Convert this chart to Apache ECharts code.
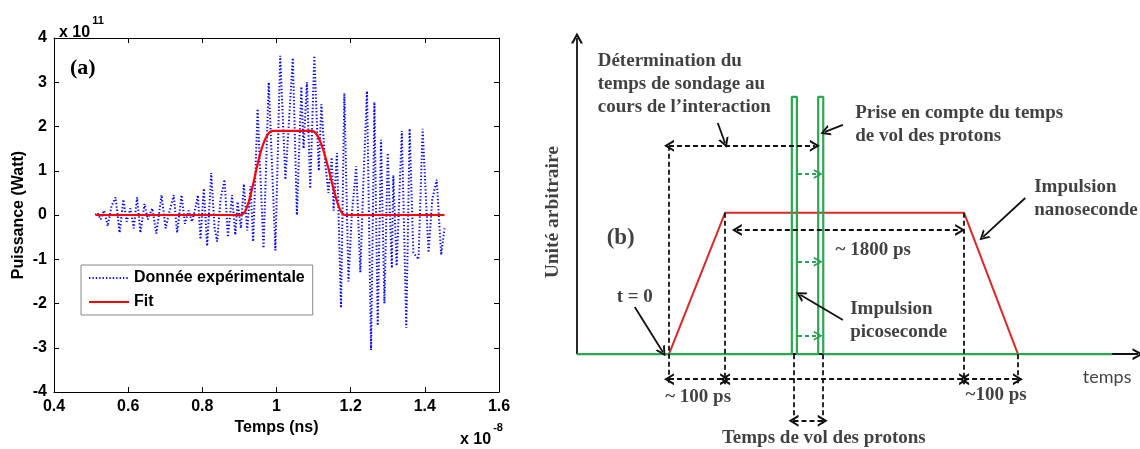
<!DOCTYPE html>
<html><head><meta charset="utf-8">
<script src="https://cdn.jsdelivr.net/npm/echarts@6/dist/echarts.min.js"></script>
<style>html,body{margin:0;padding:0;background:#fff}#c{width:1140px;height:449px}</style>
</head><body><div id="c"></div>
<script>
// ---------- Panel (a) data : time in units of 1e-8 s, power in units of 1e11 W ----------
const timeData = [0.512,0.517,0.526,0.535,0.545,0.555,0.566,0.577,0.587,0.596,0.606,0.615,0.624,0.633,0.644,0.653,0.665,0.676,0.690,0.701,0.712,0.723,0.732,0.744,0.753,0.763,0.772,0.781,0.788,0.795,0.804,0.813,0.824,0.833,0.840,0.849,0.860,0.869,0.880,0.889,0.895,0.904,0.912,0.921,0.930,0.937,0.949,0.965,0.979,0.997,1.010,1.024,1.044,1.055,1.067,1.073,1.082,1.091,1.102,1.114,1.121,1.131,1.140,1.149,1.154,1.163,1.174,1.183,1.194,1.203,1.215,1.226,1.235,1.244,1.255,1.264,1.273,1.282,1.291,1.300,1.311,1.315,1.324,1.338,1.350,1.359,1.369,1.383,1.394,1.410,1.420,1.432,1.444,1.453];
const powerData = [0,0.05,-0.1,0.1,-0.25,0.2,0.4,-0.4,0.35,-0.15,0.15,-0.3,0.4,-0.4,0.25,-0.1,0.15,-0.42,0.45,-0.3,0.1,0.45,-0.4,0.45,-0.2,0.1,-0.15,0.15,0.45,-0.55,0.6,-0.7,0.95,-0.3,-0.6,0.35,0.8,-0.5,0.45,-0.45,0.3,-0.3,0.7,-0.35,0.65,-0.6,2.4,-0.75,3.0,-0.8,3.6,0.8,3.55,0.0,2.9,1.5,3.0,0.6,3.6,1.0,2.5,1.2,0.5,1.3,0.1,1.4,-2.1,2.75,-1.5,0.0,1.1,-1.3,0.9,2.8,-3.05,2.55,-2.5,1.7,-2.0,1.4,-1.2,0.9,-1.15,1.9,-2.55,1.95,-0.85,-1.0,1.95,-0.85,0.35,0.8,-0.9,-0.3];
const fitTime  = [0.512,0.900,0.915,0.930,0.945,0.960,0.975,0.990,1.095,1.110,1.125,1.140,1.155,1.170,1.185,1.453];
const fitPower = [0,0,0.08,0.45,1.0,1.5,1.8,1.9,1.9,1.8,1.5,1.05,0.55,0.15,0,0];
const seriesNames = ['Donnée expérimentale','Fit'];

// ---------- Panel (b) schematic data (arbitrary units) ----------
const nanoX = [16.4,26.4,69.0,78.6];
const nanoY = [0,44.7,44.7,0];
const picoX = [0,38.3,38.3,39.2,39.2,43.0,43.0,43.9,43.9,95.4];
const picoY = [0,0,81.4,81.4,0,0,81.4,81.4,0,0];
// [x1,y1,x2,y2,headStart,headEnd]
const axesArrows = [[0,0,0,100,0,1],[0,0,100,0,0,1]];
const dashedArrows = [[16.4,65.9,42.4,65.9,1,1],[28.5,39.3,68.3,39.3,1,1],[16.4,-7.9,26.4,-7.9,1,1],[26.4,-7.9,69.0,-7.9,1,1],[69.0,-7.9,78.6,-7.9,1,1],[38.6,-21.1,43.8,-21.1,1,1]];
const dashedGuides = [[16.4,65.9,16.4,-9.5,0,0],[26.4,44.7,26.4,-9.5,0,0],[69.0,44.7,69.0,-9.5,0,0],[78.6,0,78.6,-9.5,0,0],[38.6,0,38.6,-22.5,0,0],[43.8,0,43.8,-22.5,0,0]];
const greenArrows = [[39.4,57.0,43.0,57.0,0,1],[39.4,29.2,43.0,29.2,0,1],[39.4,5.8,43.0,5.8,0,1]];
const pointerArrows = [[25.1,73.1,26.4,66.8,0,1],[47.4,72.5,44.2,70.3,0,1],[79.9,49.4,72.4,37.1,0,1],[47.4,10.8,39.8,18.8,0,1],[10.3,14.9,15.3,0.7,0,1]];
const labelTexts = ['Détermination du\ntemps de sondage au\ncours de l\u2019interaction','Prise en compte du temps\nde vol des protons','Impulsion\nnanoseconde','Impulsion\npicoseconde','~ 1800 ps','~ 100 ps','~100 ps','Temps de vol des protons','t = 0','(b)','temps','Unité arbitraire'];
const labelX = [3.7,49.6,81.5,48.7,52.8,21.6,74.7,44.0,10.3,7.8,94.5,-4.3];
const labelY = [85.3,72.5,49.1,10.5,32.9,-13.6,-12.9,-26.5,18.1,36.8,-7.4,44.9];

// ---------- build ----------
const zip = (a,b)=>a.map((v,i)=>[v,b[i]]);
const chevron = 'path://M0,10 L5,0 L10,10 L8,10 L5,3.8 L2,10 Z';
function toMark(seg, style, size){
  return [
    {coord:[seg[0],seg[1]], symbol: seg[4]?chevron:'none', symbolSize:size, lineStyle:style},
    {coord:[seg[2],seg[3]], symbol: seg[5]?chevron:'none', symbolSize:size}
  ];
}
const black = '#111';
const dashStyle = {color:black, width:1.8, type:[5,3]};
const greenDash = {color:'#2aa35a', width:1.8, type:[4,3]};
const solidStyle = {color:black, width:1.8, type:'solid'};

const serifBold = {fontFamily:'Liberation Serif', fontWeight:'bold', fontSize:19, color:'#111', lineHeight:23};
const labelStyles = [
  {align:'left'}, {align:'left'}, {align:'left'}, {align:'left'},
  {align:'center'}, {align:'center'}, {align:'center'}, {align:'center'},
  {align:'center'}, {align:'center', fontSize:23},
  {align:'center', fontFamily:'Lato', fontWeight:'normal', fontSize:18},
  {align:'center', rotate:90, fontSize:19.5}
];
const labelItems = labelTexts.map((t,i)=>({
  value:[labelX[i],labelY[i]], name:t,
  label:Object.assign({show:true, position:[0,0], verticalAlign:'middle', formatter:'{b}'}, serifBold, labelStyles[i])
}));

const axisFont = {fontFamily:'Liberation Sans', fontWeight:'bold', fontSize:16, color:'#000'};
const supRich = {b:Object.assign({},axisFont,{lineHeight:26, verticalAlign:'bottom'}), s:Object.assign({},axisFont,{fontSize:11, lineHeight:26, verticalAlign:'top', padding:[0,0,0,2]})};
const chart = echarts.init(document.getElementById('c'), null, {renderer:'canvas'});
chart.setOption({
  animation:false,
  backgroundColor:'#fff',
  title:[
    {text:'(a)', left:65, top:52, textStyle:{fontFamily:'Liberation Serif', fontWeight:'bold', fontSize:22, color:'#000'}},
    {text:'{b|x 10}{s|11}', left:54, top:10, textStyle:{rich:supRich}},
    {text:'{b|x 10}{s|-8}', left:455, top:417, textStyle:{rich:supRich}}
  ],
  legend:{
    data:seriesNames, orient:'vertical', left:81, top:265,
    padding:[5,8,5,7], itemGap:8, itemWidth:40, itemHeight:14,
    borderColor:'#888', borderWidth:1, backgroundColor:'#fff',
    itemStyle:{opacity:0},
    textStyle:Object.assign({},axisFont,{fontSize:16})
  },
  grid:[
    {left:54, top:38, width:445, height:354},
    {left:543.3, top:38, width:594.7, height:411}
  ],
  xAxis:[
    {gridIndex:0, type:'value', min:0.4, max:1.6, interval:0.2, position:'bottom',
     name:'Temps (ns)', nameLocation:'middle', nameGap:25, nameTextStyle:axisFont,
     axisLine:{show:true, onZero:false, lineStyle:{color:'#000', width:1}},
     axisTick:{show:true, inside:true, length:5, lineStyle:{color:'#000'}},
     axisLabel:Object.assign({margin:7, formatter:v=>String(Math.round(v*10)/10)}, axisFont),
     splitLine:{show:false}},
    {gridIndex:0, type:'value', min:0.4, max:1.6, interval:0.2, position:'top',
     axisLine:{show:true, onZero:false, lineStyle:{color:'#000', width:1}},
     axisTick:{show:true, inside:true, length:5, lineStyle:{color:'#000'}},
     axisLabel:{show:false}, splitLine:{show:false}},
    {gridIndex:1, type:'value', min:-6, max:100, show:false}
  ],
  yAxis:[
    {gridIndex:0, type:'value', min:-4, max:4, interval:1, position:'left',
     name:'Puissance (Watt)', nameLocation:'middle', nameGap:27, nameTextStyle:axisFont,
     axisLine:{show:true, onZero:false, lineStyle:{color:'#000', width:1}},
     axisTick:{show:true, inside:true, length:5, lineStyle:{color:'#000'}},
     axisLabel:Object.assign({margin:7}, axisFont), splitLine:{show:false}},
    {gridIndex:0, type:'value', min:-4, max:4, interval:1, position:'right',
     axisLine:{show:true, onZero:false, lineStyle:{color:'#000', width:1}},
     axisTick:{show:true, inside:true, length:5, lineStyle:{color:'#000'}},
     axisLabel:{show:false}, splitLine:{show:false}},
    {gridIndex:1, type:'value', min:-30, max:100, show:false}
  ],
  series:[
    {name:seriesNames[0], type:'line', xAxisIndex:0, yAxisIndex:0, data:zip(timeData,powerData),
     symbol:'none', lineStyle:{color:'#0000ff', width:2, type:[1.3,2.1], cap:'butt'}, itemStyle:{color:'#0000ff'}, z:3},
    {name:seriesNames[1], type:'line', xAxisIndex:0, yAxisIndex:0, data:zip(fitTime,fitPower), smooth:0.35,
     symbol:'none', lineStyle:{color:'#ff0000', width:2.2}, itemStyle:{color:'#ff0000'}, z:4},
    // panel (b)
    {name:'axes', type:'line', xAxisIndex:2, yAxisIndex:2, data:[[0,0]], symbol:'none', lineStyle:{opacity:0}, z:1,
     markLine:{silent:true, label:{show:false}, z:1, data:axesArrows.map(s=>toMark(s,{color:black,width:1.8,type:'solid'},[12,11]))}},
    {name:'Impulsion nanoseconde', type:'line', xAxisIndex:2, yAxisIndex:2, data:zip(nanoX,nanoY), symbol:'none',
     lineStyle:{color:'#d92a2a', width:2}, z:2},
    {name:'Impulsion picoseconde', type:'line', xAxisIndex:2, yAxisIndex:2, data:zip(picoX,picoY), symbol:'none',
     lineStyle:{color:'#27a94f', width:2.2}, z:3},
    {name:'annotations', type:'line', xAxisIndex:2, yAxisIndex:2, data:[[0,0]], symbol:'none', lineStyle:{opacity:0}, z:5,
     markLine:{silent:true, label:{show:false}, z:5, data:[].concat(
       dashedArrows.map(s=>toMark(s,dashStyle,[12,10])),
       dashedGuides.map(s=>toMark(s,dashStyle,[12,10])),
       greenArrows.map(s=>toMark(s,greenDash,[10,9])),
       pointerArrows.map(s=>toMark(s,solidStyle,[11,10]))
     )}},
    {name:'labels', type:'scatter', xAxisIndex:2, yAxisIndex:2, symbolSize:0, clip:false, data:labelItems, z:6, silent:true}
  ]
});
</script></body></html>
